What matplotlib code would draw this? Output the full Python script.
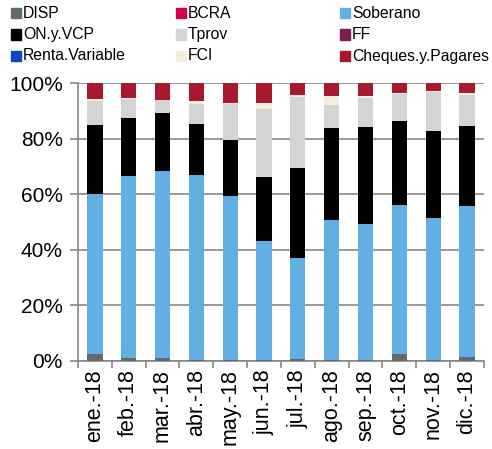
import numpy as np
import matplotlib
matplotlib.use("Agg")
import matplotlib.pyplot as plt
from matplotlib.patches import Rectangle
from matplotlib.ticker import PercentFormatter

plt.rcParams['font.family'] = ['Liberation Sans', 'DejaVu Sans']

meses = ['ene.-18', 'feb.-18', 'mar.-18', 'abr.-18', 'may.-18', 'jun.-18',
         'jul.-18', 'ago.-18', 'sep.-18', 'oct.-18', 'nov.-18', 'dic.-18']

# participacion en %
disp     = [2.4, 1.0, 1.1, 0.2, 0.4, 0.2, 0.8, 0.2, 0.2, 2.4, 0.3, 1.6]
bcra     = [0.0, 0.0, 0.0, 0.0, 0.0, 0.0, 0.0, 0.0, 0.0, 0.0, 0.0, 0.0]
soberano = [57.7, 65.6, 67.4, 66.8, 59.0, 42.9, 36.3, 50.6, 49.0, 53.9, 51.1, 54.2]
on_vcp   = [24.8, 21.0, 20.8, 18.2, 20.0, 23.0, 32.4, 32.9, 35.0, 30.0, 31.2, 28.7]
tprov    = [8.7, 6.8, 4.5, 7.2, 13.0, 24.5, 25.6, 8.4, 10.4, 9.9, 14.2, 11.1]
ff       = [0.0, 0.0, 0.0, 0.0, 0.0, 0.0, 0.0, 0.0, 0.0, 0.0, 0.0, 0.0]
renta    = [0.0, 0.0, 0.0, 0.0, 0.0, 0.0, 0.0, 0.0, 0.0, 0.0, 0.0, 0.0]
fci      = [0.8, 0.2, 0.2, 1.0, 0.5, 2.1, 0.5, 3.3, 0.6, 0.2, 0.2, 0.8]

series = ['DISP', 'BCRA', 'Soberano', 'ON.y.VCP', 'Tprov', 'FF',
          'Renta.Variable', 'FCI', 'Cheques.y.Pagares']
colores = ['#5f6b73', '#d4004f', '#62b0e3', '#000000', '#d3d4d4',
           '#7b1e52', '#0a47c0', '#f5eedd', '#a8192e']

datos = np.array([disp, bcra, soberano, on_vcp, tprov, ff, renta, fci])
cheques = 100 - datos.sum(axis=0)
datos = np.vstack([datos, cheques])

fig = plt.figure(figsize=(4.92, 4.49), dpi=100)
ax = fig.add_axes([0.1585, 0.196, 0.825, 0.619])

x = np.arange(len(meses))
base = np.zeros(len(meses))
for vals, nombre, col in zip(datos, series, colores):
    ax.bar(x, vals, bottom=base, width=0.45, color=col, label=nombre, zorder=3)
    base += vals

ax.set_ylim(0, 100)
ax.set_xlim(-0.5, len(meses) - 0.5)
ax.set_yticks(np.arange(0, 101, 20))
ax.yaxis.set_major_formatter(PercentFormatter(decimals=0))
ax.set_xticks(x)
ax.set_xticklabels(meses, rotation=90, fontsize=15.5)
ax.set_xticks(np.arange(-0.5, len(meses), 1), minor=True)
ax.tick_params(axis='x', which='major', length=0, pad=6)
ax.tick_params(axis='x', which='minor', length=5, color='#888888', width=1.2)
ax.tick_params(axis='y', length=6, color='#888888', width=1.2, labelsize=15, pad=5)
ax.grid(axis='y', color='#888888', lw=1.2, zorder=0)
for s in ['top', 'right']:
    ax.spines[s].set_visible(False)
for s in ['left', 'bottom']:
    ax.spines[s].set_color('#888888')
    ax.spines[s].set_linewidth(1.2)

# leyenda en tres columnas
col_x = [11, 176, 340]
fila_y = [13, 34.5, 56]
W, H = 492, 449
for i, (nombre, col) in enumerate(zip(series, colores)):
    cx = col_x[i % 3]
    cy = fila_y[i // 3]
    fig.patches.append(Rectangle((cx / W, (H - cy - 5) / H), 10 / W, 10 / H,
                                 transform=fig.transFigure, color=col))
    fig.text((cx + 12) / W, (H - cy) / H, nombre, fontsize=11.3, va='center', ha='left')

fig.savefig('out.png', dpi=100)
